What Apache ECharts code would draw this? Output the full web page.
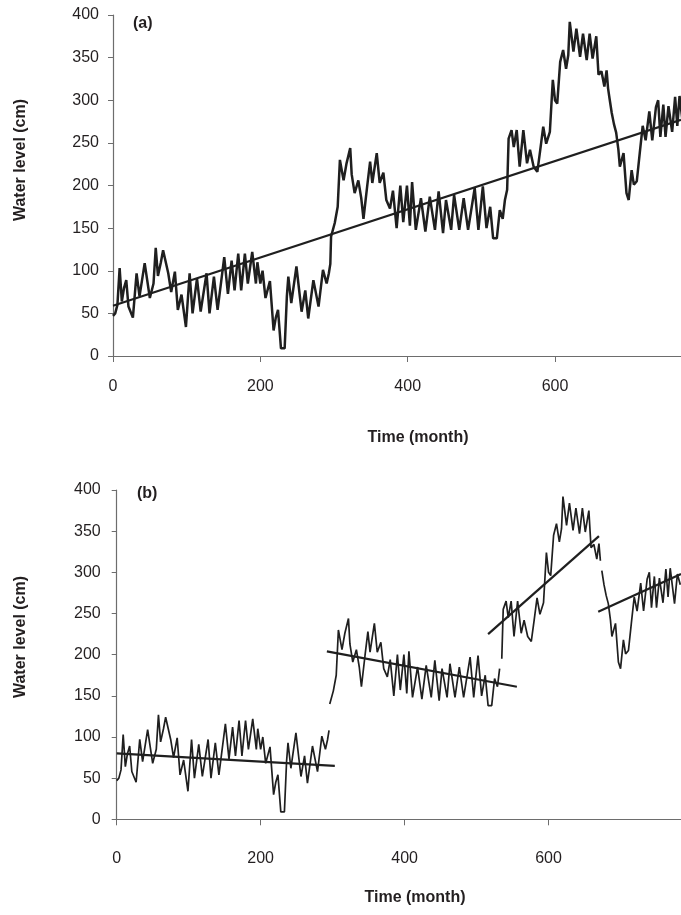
<!DOCTYPE html>
<html>
<head>
<meta charset="utf-8">
<script src="https://cdn.jsdelivr.net/npm/echarts@6/dist/echarts.min.js"></script>
<style>
  html, body { margin: 0; padding: 0; background: #fff; }
  #chart { width: 681px; height: 915px; }
</style>
</head>
<body>
<div id="chart"></div>
<script>
// Monthly water level readings (month, cm)
const months = [0,3,6,9,12,15,18,21,27,32,36,43,50,55,58,61,65,68,75,79,84,88,93,99,104,108,114,119,127,131,137,142,151,156,161,165,170,174,179,183,189,194,196,200,203,207,209,213,218,221,224,228,233,236,238,242,249,256,261,265,272,279,285,290,293,295,296,301,305,308,313,317,322,324,328,333,337,340,345,349,352,358,362,367,371,376,380,385,390,394,399,403,406,411,418,424,430,437,442,448,452,459,463,470,476,482,491,496,502,507,512,516,521,525,529,532,535,537,541,544,548,552,557,562,566,571,576,580,584,588,593,597,600,603,607,611,615,618,620,625,629,634,638,643,647,651,656,659,663,667,670,672,674,677,680,683,686,688,693,697,700,704,707,711,715,719,723,728,732,737,740,743,747,750,754,759,763,766,769,775,779,783];
const levels = [47,50,60,103,64,80,89,58,45,97,70,109,68,85,127,94,110,124,97,75,99,54,72,34,97,50,91,52,97,50,93,54,116,73,112,77,120,77,120,85,122,85,110,85,100,68,70,88,30,45,54,9,9,70,93,62,105,52,77,44,89,58,101,85,97,108,140,156,175,230,206,226,244,213,191,206,185,161,199,228,203,238,203,215,183,173,194,150,200,157,200,153,204,148,185,146,187,148,193,144,183,148,189,148,185,148,197,148,199,150,175,138,138,171,161,183,195,255,265,245,265,222,265,226,242,222,216,242,269,249,263,324,300,296,345,359,337,353,392,357,384,351,378,347,378,349,375,330,334,316,335,314,302,285,272,262,242,222,238,191,183,218,201,205,238,270,253,287,253,292,300,257,295,257,293,263,304,270,305,262,298,285];

// Panel (a): single linear trend (start / end)
const trendA = [[0, 59], [771, 277]];

// Panel (b): piecewise segments (month ranges) and their trends
const segRanges = [[0, 295], [296, 533], [535, 672], [674, 790]];
const trendsB = [
  [[0, 80], [303, 65]],
  [[292, 204], [556, 161]],
  [[516, 225], [670, 344]],
  [[669, 252], [784, 298]]
];

const yTicks = { min: 0, max: 400, step: 50 };
const xTicks = { min: 0, step: 200 };

const series = months.map((m, i) => [m, levels[i]]);

const textColor = '#231f20';
const axisColor = '#6d6d6d';
const lineColor = '#1f1f1f';

function xAxisCfg(gridIndex, max, margin) {
  return {
    type: 'value', gridIndex, min: xTicks.min, max, interval: xTicks.step,
    axisLine: { show: true, lineStyle: { color: axisColor, width: 1.2 } },
    axisTick: { show: true, length: 6, lineStyle: { color: axisColor } },
    axisLabel: { show: true, margin, color: textColor, fontSize: 16,
      fontFamily: 'Liberation Sans, Arial, sans-serif', showMaxLabel: false },
    splitLine: { show: false }
  };
}
function yAxisCfg(gridIndex, margin) {
  return {
    type: 'value', gridIndex, min: yTicks.min, max: yTicks.max, interval: yTicks.step,
    axisLine: { show: true, lineStyle: { color: axisColor, width: 1.2 } },
    axisTick: { show: true, length: 5, lineStyle: { color: axisColor } },
    axisLabel: { show: true, margin, color: textColor, fontSize: 16,
      fontFamily: 'Liberation Sans, Arial, sans-serif' },
    splitLine: { show: false }
  };
}

const seriesList = [];
seriesList.push({
  type: 'line', xAxisIndex: 0, yAxisIndex: 0, data: series, showSymbol: false,
  lineStyle: { color: lineColor, width: 2.5 }, clip: true, animation: false
});
seriesList.push({
  type: 'line', xAxisIndex: 0, yAxisIndex: 0, data: trendA, showSymbol: false,
  lineStyle: { color: lineColor, width: 2.2 }, clip: true, animation: false
});
segRanges.forEach(r => {
  seriesList.push({
    type: 'line', xAxisIndex: 1, yAxisIndex: 1,
    data: series.filter(p => p[0] >= r[0] && p[0] <= r[1]), showSymbol: false,
    lineStyle: { color: lineColor, width: 1.7 }, clip: true, animation: false
  });
});
trendsB.forEach(t => {
  seriesList.push({
    type: 'line', xAxisIndex: 1, yAxisIndex: 1, data: t, showSymbol: false,
    lineStyle: { color: lineColor, width: 2.2 }, clip: true, animation: false
  });
});

const titleFont = { fontFamily: 'Liberation Sans, Arial, sans-serif', fontWeight: 'bold', fontSize: 16, fill: textColor };

const option = {
  backgroundColor: '#fff',
  animation: false,
  grid: [
    { left: 113, top: 15, width: 568, height: 341, outerBoundsMode: 'none' },
    { left: 116.7, top: 490, width: 564.3, height: 329.3, outerBoundsMode: 'none' }
  ],
  xAxis: [xAxisCfg(0, 771, 23), xAxisCfg(1, 784, 31)],
  yAxis: [yAxisCfg(0, 14), yAxisCfg(1, 16)],
  series: seriesList,
  graphic: [
    { type: 'text', left: 133, top: 16, style: Object.assign({ text: '(a)' }, titleFont) },
    { type: 'text', left: 137, top: 486, style: Object.assign({ text: '(b)' }, titleFont) },
    { type: 'text', x: 418, y: 438, style: Object.assign({ text: 'Time (month)', align: 'center', verticalAlign: 'middle' }, titleFont) },
    { type: 'text', x: 415, y: 898, style: Object.assign({ text: 'Time (month)', align: 'center', verticalAlign: 'middle' }, titleFont) },
    { type: 'text', x: 21, y: 160, rotation: Math.PI / 2, style: Object.assign({ text: 'Water level (cm)', align: 'center', verticalAlign: 'middle' }, titleFont) },
    { type: 'text', x: 21, y: 637, rotation: Math.PI / 2, style: Object.assign({ text: 'Water level (cm)', align: 'center', verticalAlign: 'middle' }, titleFont) }
  ]
};

const chart = echarts.init(document.getElementById('chart'), null, { renderer: 'canvas' });
chart.setOption(option);
</script>
</body>
</html>
